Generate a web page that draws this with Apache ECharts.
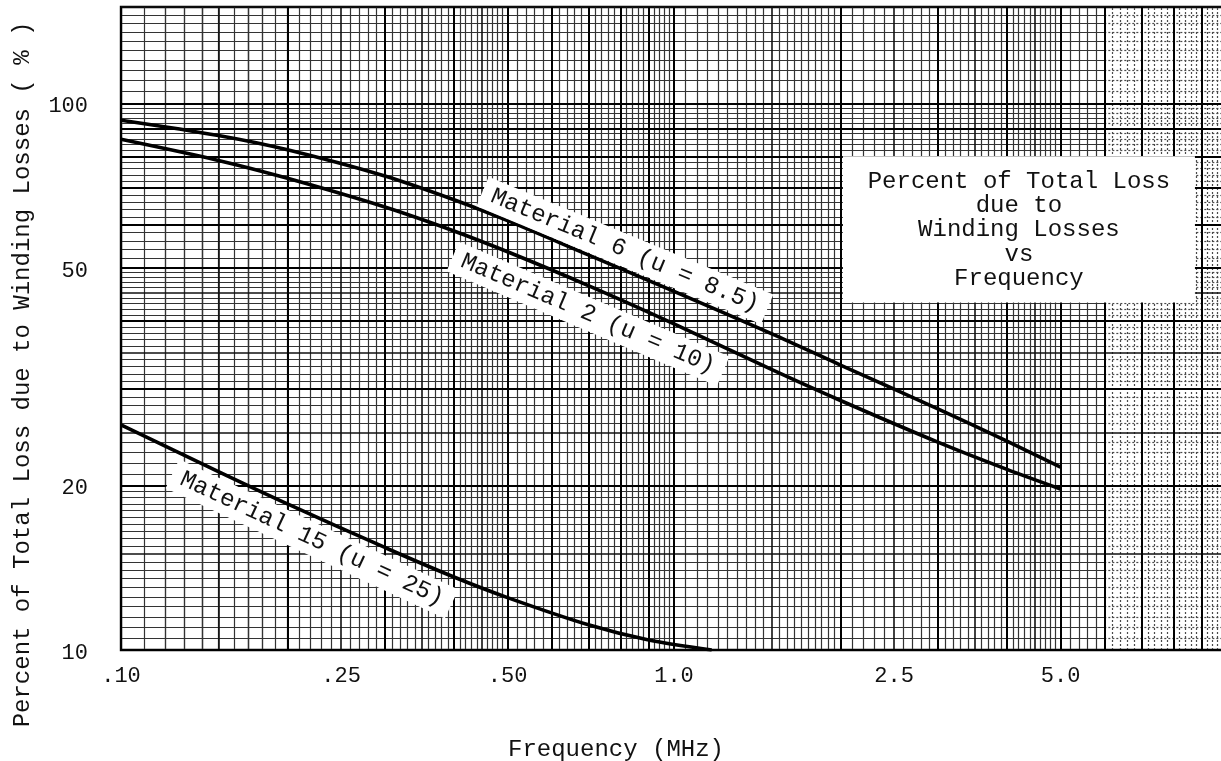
<!DOCTYPE html>
<html>
<head>
<meta charset="utf-8">
<script src="https://cdn.jsdelivr.net/npm/echarts@6/dist/echarts.min.js"></script>
<style>
  html, body { margin: 0; padding: 0; background: #fff; }
  #chart { width: 1221px; height: 761px; }
</style>
</head>
<body>
<div id="chart"></div>
<script>
// Frequency (MHz) at which each curve was sampled, and percent of loss due to windings
const freqWide = [0.1, 0.15, 0.2, 0.3, 0.4, 0.5, 0.7, 1.0, 1.5, 2.0, 3.0, 4.0, 5.0];
const material6 = [93.1, 87.3, 82.2, 73.6, 66.6, 61.0, 52.8, 45.3, 37.9, 33.2, 27.6, 24.1, 21.6];
const material2 = [85.9, 78.6, 72.9, 64.6, 58.4, 53.5, 46.4, 39.5, 32.6, 28.6, 24.0, 21.4, 19.7];
const freq15 = [0.1, 0.15, 0.2, 0.3, 0.4, 0.5, 0.7, 0.9, 1.17];
const material15 = [25.8, 21.2, 18.5, 15.4, 13.6, 12.47, 11.12, 10.43, 10.0];

// Axis labels
const xTickValues = [0.1, 0.25, 0.5, 1, 2.5, 5];
const xTickText = ['.10', '.25', '.50', '1.0', '2.5', '5.0'];
const yTickValues = [10, 20, 50, 100];
const yTickText = ['10', '20', '50', '100'];

// Curve captions: text, anchor (MHz, %), slant in degrees
const captionText = ['Material 6 (u = 8.5)', 'Material 2 (u = 10)', 'Material 15 (u = 25)'];
const captionFreq = [0.815, 0.699, 0.2215];
const captionPct = [53.8, 41.2, 15.97];
const captionSlant = [22.5, 23, 25];

// Title panel text and its corners (MHz, %)
const boxLines = ['Percent of Total Loss', 'due to', 'Winding Losses', 'vs', 'Frequency'];
const boxCorner1 = [2.02, 80];
const boxCorner2 = [8.75, 43.2];

const FONT = '"Liberation Mono", "DejaVu Sans Mono", monospace';

// Log-paper rulings: heavy at each integer step, medium at the half steps,
// fine subdivisions in between
function rulings(decadeStarts, lo, hi) {
  const heavy = [], medium = [], fine = [];
  const subSteps = [[1, 2, 0.05], [2, 5, 0.1], [5, 10, 0.2]];
  const inRange = v => v >= lo - 1e-9 && v <= hi + 1e-9;
  decadeStarts.forEach(d => {
    for (let k = 1; k <= 10; k++) {
      const v = +(d * k).toPrecision(6);
      if (inRange(v)) heavy.push(v);
    }
    [1.5, 2.5, 3.5, 4.5].forEach(k => {
      const v = +(d * k).toPrecision(6);
      if (inRange(v)) medium.push(v);
    });
    subSteps.forEach(([a, b, s]) => {
      const n = Math.round((b - a) / s);
      for (let i = 1; i < n; i++) {
        const m = +(a + i * s).toPrecision(6);
        if (Math.abs(m - Math.round(m)) < 1e-6) continue;
        if ([1.5, 2.5, 3.5, 4.5].indexOf(m) >= 0) continue;
        const v = +(d * m).toPrecision(6);
        if (inRange(v)) fine.push(v);
      }
    });
  });
  return { heavy, medium, fine };
}
const xRule = rulings([0.1, 1], 0.1, 10);
const yRule = rulings([10, 100], 10, 150);
const fadeFrom = 6;   // past 6 MHz the fine ruling is printed faint

const fineStyle = { color: '#333', width: 1.2, type: 'solid' };
const faintStyle = { color: '#4a4a4a', width: 1.2, type: [2, 2] };
const mediumStyle = { color: '#111', width: 1.6, type: 'solid' };
const heavyStyle = { color: '#000', width: 2, type: 'solid' };

function ruleMarks() {
  const out = [];
  xRule.fine.forEach(v => out.push({ xAxis: v, lineStyle: v > fadeFrom ? faintStyle : fineStyle }));
  yRule.fine.forEach(v => {
    out.push([{ coord: [0.1, v], lineStyle: fineStyle }, { coord: [fadeFrom, v], lineStyle: fineStyle }]);
    out.push([{ coord: [fadeFrom, v], lineStyle: faintStyle }, { coord: [10, v], lineStyle: faintStyle }]);
  });
  xRule.medium.forEach(v => out.push({ xAxis: v, lineStyle: mediumStyle }));
  yRule.medium.forEach(v => out.push({ yAxis: v, lineStyle: mediumStyle }));
  xRule.heavy.forEach(v => out.push({ xAxis: v, lineStyle: heavyStyle }));
  yRule.heavy.forEach(v => out.push({ yAxis: v, lineStyle: heavyStyle }));
  return out;
}

function tickFormatter(values, texts, richKey) {
  return function (val) {
    let best = 0;
    values.forEach((v, i) => {
      if (Math.abs(Math.log(v) - Math.log(val)) < Math.abs(Math.log(values[best]) - Math.log(val))) best = i;
    });
    return richKey ? '{' + richKey + '|' + texts[best] + '}' : texts[best];
  };
}

const chart = echarts.init(document.getElementById('chart'), null, { renderer: 'canvas' });

const curveStyle = { color: '#000', width: 3.6 };

chart.setOption({
  animation: false,
  backgroundColor: '#fff',
  grid: {
    left: 121, top: 7, right: -6, bottom: 111,
    outerBoundsMode: 'none', containLabel: false,
    show: true, borderColor: '#000', borderWidth: 2.4, backgroundColor: '#fff'
  },
  xAxis: {
    type: 'log', logBase: 10, min: 0.1, max: 10,
    axisLine: { show: false }, axisTick: { show: false }, splitLine: { show: false },
    axisLabel: {
      customValues: xTickValues,
      formatter: tickFormatter(xTickValues, xTickText),
      margin: 15, fontFamily: FONT, fontSize: 22, color: '#111'
    },
    name: 'Frequency (MHz)', nameLocation: 'middle', nameGap: 88,
    nameTextStyle: { fontFamily: FONT, fontSize: 24, color: '#111', padding: [0, 116, 0, 0] }
  },
  yAxis: {
    type: 'log', logBase: 10, min: 10, max: 150,
    axisLine: { show: false }, axisTick: { show: false }, splitLine: { show: false },
    axisLabel: {
      customValues: yTickValues,
      formatter: tickFormatter(yTickValues, yTickText, 't'),
      margin: 33, fontFamily: FONT, fontSize: 22, color: '#111',
      rich: { t: { fontFamily: FONT, fontSize: 22, color: '#111', padding: [6, 0, 0, 0] } }
    },
    name: 'Percent of Total Loss due to Winding Losses ( % )',
    nameLocation: 'middle', nameGap: 86,
    nameTextStyle: { fontFamily: FONT, fontSize: 24, color: '#111', padding: [0, 92, 0, 0] }
  },
  series: [
    {
      name: 'rulings', type: 'line', data: [], silent: true, z: 1,
      markLine: {
        silent: true, symbol: ['none', 'none'], label: { show: false },
        animation: false,
        emphasis: { disabled: true },
        data: ruleMarks()
      }
    },
    {
      name: 'Material 6 (u = 8.5)', type: 'line', smooth: 0.3, symbol: 'none', z: 5,
      lineStyle: curveStyle, data: freqWide.map((f, i) => [f, material6[i]])
    },
    {
      name: 'Material 2 (u = 10)', type: 'line', smooth: 0.3, symbol: 'none', z: 5,
      lineStyle: curveStyle, data: freqWide.map((f, i) => [f, material2[i]])
    },
    {
      name: 'Material 15 (u = 25)', type: 'line', smooth: 0.3, symbol: 'none', z: 5,
      lineStyle: curveStyle, data: freq15.map((f, i) => [f, material15[i]])
    }
  ]
});

// Captions along the curves and the title panel, placed in data coordinates
const toPx = p => chart.convertToPixel({ gridIndex: 0 }, p);
const graphics = captionText.map((t, i) => {
  const p = toPx([captionFreq[i], captionPct[i]]);
  return {
    type: 'text', x: p[0], y: p[1], rotation: -captionSlant[i] * Math.PI / 180, z: 100,
    style: {
      text: t, font: '24px ' + FONT, fill: '#111',
      align: 'center', verticalAlign: 'middle',
      backgroundColor: '#fff', padding: [5, 10, 3, 10]
    }
  };
});
const c1 = toPx(boxCorner1), c2 = toPx(boxCorner2);
graphics.push({
  type: 'rect', z: 100,
  shape: { x: c1[0], y: c1[1], width: c2[0] - c1[0], height: c2[1] - c1[1] },
  style: { fill: '#fff', stroke: null }
});
graphics.push({
  type: 'text', z: 101, x: (c1[0] + c2[0]) / 2, y: c1[1] + 13,
  style: {
    text: boxLines.join('\n'), font: '24px ' + FONT, fill: '#111',
    align: 'center', verticalAlign: 'top', lineHeight: 24.3
  }
});
chart.setOption({ graphic: graphics });
</script>
</body>
</html>
